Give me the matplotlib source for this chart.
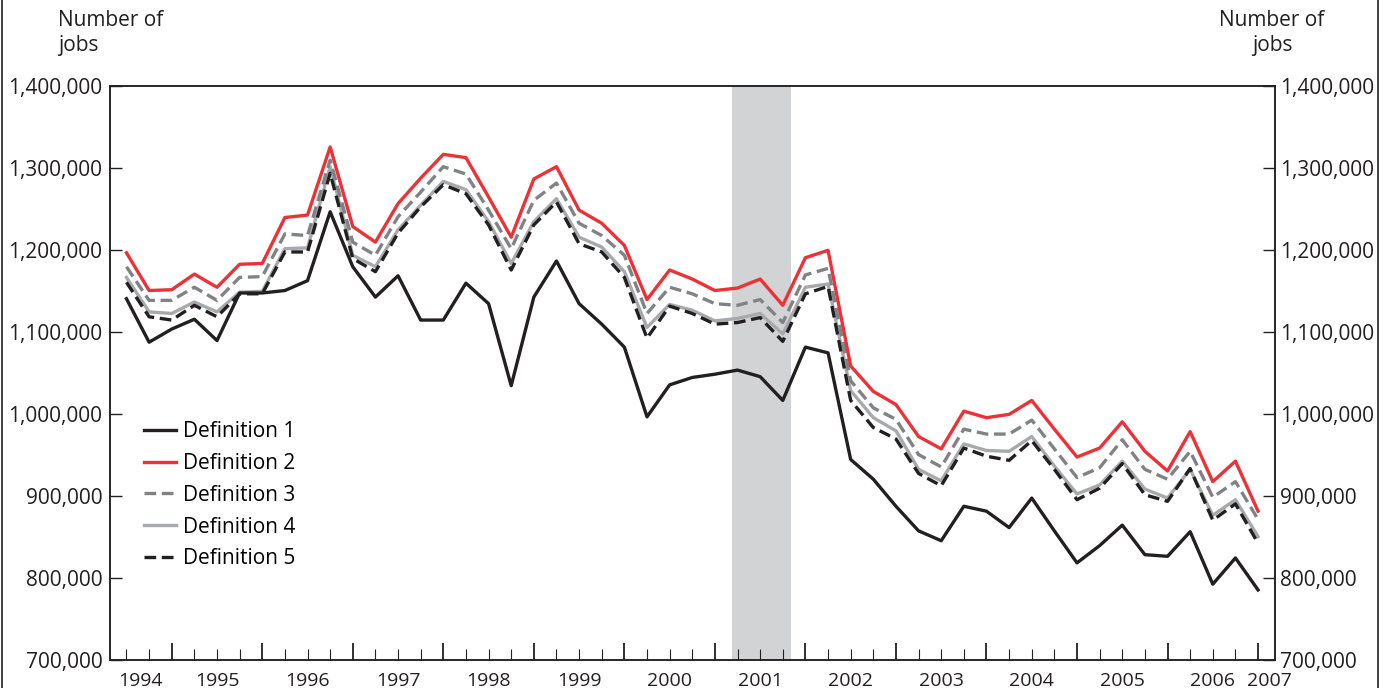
import numpy as np
import matplotlib.pyplot as plt
from matplotlib.lines import Line2D
from matplotlib.ticker import MultipleLocator, FuncFormatter
import matplotlib.transforms as mtransforms

# ===================== fonts =====================
plt.rcParams['font.family'] = ['Open Sans', 'DejaVu Sans']

# ===================== data (thousands of jobs, quarterly 1994-2006) =====================
start_year = 1994.5          # first quarter plotted (mid-1994)
def1 = [1141, 1088, 1104, 1116, 1090, 1148, 1148, 1151, 1163, 1247,
        1180, 1143, 1169, 1115, 1115, 1160, 1135, 1035, 1143, 1187,
        1135, 1110, 1082, 997, 1036, 1045, 1049, 1054, 1046, 1017,
        1082, 1075, 945, 921, 888, 858, 846, 888, 882, 862,
        898, 858, 819, 840, 865, 829, 827, 857, 793, 825, 786]
def2 = [1197, 1151, 1152, 1171, 1155, 1183, 1184, 1240, 1243, 1326,
        1229, 1210, 1257, 1288, 1317, 1313, 1265, 1216, 1287, 1302,
        1249, 1233, 1206, 1140, 1176, 1165, 1151, 1154, 1165, 1133,
        1191, 1200, 1059, 1028, 1012, 973, 958, 1004, 996, 1000,
        1017, 982, 948, 959, 991, 955, 931, 979, 918, 943, 882]
def3 = [1180, 1139, 1139, 1155, 1139, 1167, 1168, 1220, 1218, 1310,
        1210, 1194, 1241, 1271, 1302, 1293, 1249, 1202, 1261, 1282,
        1233, 1218, 1194, 1123, 1155, 1147, 1135, 1133, 1140, 1112,
        1170, 1178, 1041, 1008, 994, 951, 936, 982, 976, 976,
        993, 958, 923, 935, 969, 933, 921, 955, 899, 918, 872]
def4 = [1167, 1125, 1123, 1137, 1125, 1149, 1150, 1202, 1203, 1302,
        1194, 1180, 1225, 1255, 1284, 1274, 1235, 1184, 1235, 1263,
        1216, 1204, 1174, 1106, 1134, 1127, 1114, 1117, 1123, 1098,
        1155, 1159, 1029, 996, 980, 933, 919, 964, 956, 955,
        973, 937, 903, 914, 943, 909, 898, 933, 877, 896, 851]
def5 = [1161, 1119, 1115, 1133, 1119, 1147, 1147, 1198, 1198, 1294,
        1190, 1174, 1221, 1253, 1280, 1269, 1231, 1176, 1231, 1259,
        1208, 1198, 1167, 1093, 1132, 1123, 1110, 1112, 1118, 1089,
        1147, 1156, 1017, 984, 970, 928, 913, 959, 949, 944,
        968, 933, 896, 910, 940, 902, 894, 934, 871, 891, 843]
years = list(range(1994, 2008))
recession = (2001.19, 2001.84)   # Mar 2001 - Nov 2001

# ===================== figure =====================
BLACK = '#231f20'
RED = '#ec3237'
GRAY = '#808285'
LIGHT = '#a7a9ac'
SHADE = '#d1d3d4'

fig = plt.figure(figsize=(13.87, 6.88), dpi=100)
ax = fig.add_axes([0.0793, 0.040, 0.8400, 0.8346])

t = start_year + 0.25 * np.arange(len(def1))
k = 1000

ax.axvspan(*recession, color=SHADE, lw=0, zorder=0)

lw = 2.4
dash = (3.5, 1.7)
ax.plot(t, np.array(def4) * k, color=LIGHT, lw=lw, label='Definition 4', zorder=2)
ax.plot(t, np.array(def5) * k, color=BLACK, lw=lw, dashes=dash, label='Definition 5', zorder=3)
ax.plot(t, np.array(def3) * k, color=GRAY, lw=lw, dashes=dash, label='Definition 3', zorder=3)
ax.plot(t, np.array(def1) * k, color=BLACK, lw=lw, label='Definition 1', zorder=4)
ax.plot(t, np.array(def2) * k, color=RED, lw=lw, label='Definition 2', zorder=5)

ax.set_xlim(1994.318, 2007.188)
ax.set_ylim(700000, 1400000)

# y axis, both sides
fmt = FuncFormatter(lambda v, p: f'{v:,.0f}')
ax.yaxis.set_major_locator(MultipleLocator(100000))
ax.yaxis.set_major_formatter(fmt)
ax.tick_params(axis='y', direction='in', length=8.5, width=1.0, color=BLACK,
               labelsize=15, labelcolor=BLACK, pad=5.5)
ax2 = ax.twinx()
ax2.set_ylim(ax.get_ylim())
ax2.yaxis.set_major_locator(MultipleLocator(100000))
ax2.yaxis.set_major_formatter(fmt)
ax2.tick_params(axis='y', direction='in', length=8.5, width=1.0, color=BLACK,
                labelsize=15, labelcolor=BLACK, pad=3.5)

# x axis: year ticks + quarter ticks, labels centred in each year
ax.xaxis.set_major_locator(MultipleLocator(1))
ax.xaxis.set_minor_locator(MultipleLocator(0.25))
ax.tick_params(axis='x', which='major', direction='in', length=12, width=1.3,
               color=BLACK, labelbottom=False)
ax.tick_params(axis='x', which='minor', direction='in', length=8, width=0.8,
               color=BLACK)
trans = mtransforms.blended_transform_factory(ax.transData, ax.transAxes)
x0, x1 = ax.get_xlim()
for y in years:
    if y == years[0]:
        xc = (x0 + y + 1) / 2
    elif y == years[-1]:
        xc = y + 0.13
    else:
        xc = y + 0.5
    ax.text(xc, -0.036, str(y), transform=trans, ha='center', va='center',
            fontsize=14, color=BLACK)

for a in (ax, ax2):
    for s in a.spines.values():
        s.set_color(BLACK)
        s.set_linewidth(1.1)

# axis titles
fig.text(58 / 1387, 1 - 33 / 688, 'Number of\njobs', ha='left', va='center',
         fontsize=15, color=BLACK, linespacing=1.25)
fig.text(1272 / 1387, 1 - 33 / 688, 'Number of\njobs', ha='center', va='center',
         fontsize=15, color=BLACK, linespacing=1.25)

# legend
handles = [Line2D([], [], color=BLACK, lw=lw),
           Line2D([], [], color=RED, lw=lw),
           Line2D([], [], color=GRAY, lw=lw, dashes=dash),
           Line2D([], [], color=LIGHT, lw=lw),
           Line2D([], [], color=BLACK, lw=lw, dashes=dash)]
labels = ['Definition 1', 'Definition 2', 'Definition 3', 'Definition 4', 'Definition 5']
ax.legend(handles, labels, loc='upper left', bbox_to_anchor=(0.029, 0.417),
          frameon=False, fontsize=15, handlelength=1.55, handletextpad=0.35,
          labelspacing=0.52, borderpad=0, borderaxespad=0)

# outer frame lines
fig.add_artist(Line2D([1.5 / 1387, 1.5 / 1387], [0, 1], color=BLACK, lw=1.2))
fig.add_artist(Line2D([1377.5 / 1387, 1377.5 / 1387], [0, 1], color=BLACK, lw=1.2))

plt.savefig('out.png', dpi=100)
